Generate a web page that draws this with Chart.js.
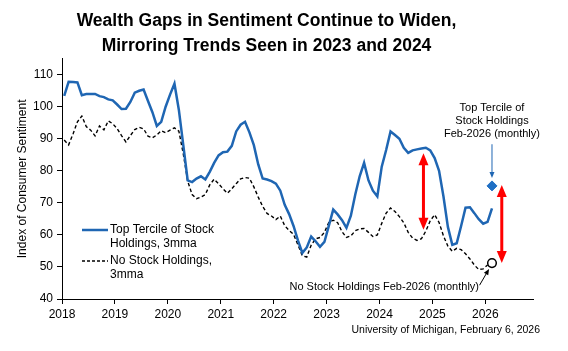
<!DOCTYPE html>
<html><head><meta charset="utf-8">
<script src="https://cdn.jsdelivr.net/npm/chart.js@4.4.1/dist/chart.umd.min.js"></script>
<style>html,body{margin:0;padding:0;background:#fff;}#wrap{width:568px;height:351px;position:relative;}</style>
</head><body><div id="wrap"><canvas id="c" width="568" height="351"></canvas></div>
<script>
// ---- data ----
const startYear = 2018; // monthly series begin Jan 2018
const topTercile3mma = [
  103.4,107.8,107.7,107.6,103.6,104.0,104.0,104.0,103.3,103.0,102.3,102.0,
  100.7,99.3,99.4,101.5,104.4,105.0,105.4,101.8,98.3,94.0,95.3,100.0,
  103.8,107.2,99.0,88.0,77.0,76.5,77.6,78.3,77.3,79.7,82.5,84.8,
  85.8,86.0,87.8,92.3,94.4,95.3,92.0,88.0,82.0,77.6,77.3,76.8,
  76.0,73.8,69.4,66.5,62.8,58.3,54.4,56.1,59.5,58.0,56.3,57.8,
  62.8,67.9,66.4,64.6,62.2,66.0,72.6,78.3,82.5,77.0,73.8,72.0,
  81.3,86.5,92.3,91.2,90.0,87.2,85.6,86.4,86.7,87.0,87.2,86.4,
  84.0,80.0,72.0,62.5,56.9,57.4,62.8,68.5,68.6,66.8,64.9,63.5,
  64.1,68.3
];
const noStock3mma = [
  89.6,88.1,91.5,95.3,97.1,93.8,92.7,90.9,94.0,92.8,95.6,94.7,
  93.2,91.0,89.0,91.0,92.9,93.6,93.1,90.8,90.3,91.2,92.5,91.9,
  92.7,93.4,92.4,85.3,76.8,72.6,71.3,71.8,72.6,75.6,77.4,76.0,
  74.4,73.0,74.4,76.0,77.5,77.9,77.7,75.0,71.8,68.9,66.7,65.9,
  64.8,65.9,62.9,61.4,60.2,56.9,53.5,53.1,56.8,58.8,59.2,60.8,
  63.9,64.6,63.8,61.0,59.2,59.7,61.3,61.9,62.0,60.8,59.5,60.0,
  63.6,66.8,68.4,67.3,65.7,63.8,60.8,59.0,58.3,58.8,61.2,64.4,
  66.3,63.9,59.7,56.5,54.9,55.8,55.4,54.1,52.5,50.6,49.2,49.4,
  50.6
];
const feb2026Month = 2026 + 1.5 / 12;
const topTercileFeb2026 = 75.3;
const noStockFeb2026 = 51.2;
const yearTicks = [2018, 2019, 2020, 2021, 2022, 2023, 2024, 2025, 2026];
const valueTicks = [40, 50, 60, 70, 80, 90, 100, 110];
// gap arrows: [x (year), upper value, lower value]
const gapArrows = [[2024.83, 85.5, 61.6], [2026.31, 75.6, 51.2]];

// ---- build points ----
const monthX = i => startYear + (i + 0.5) / 12;
const topPts = topTercile3mma.map((v, i) => ({x: monthX(i), y: v}));
const nonePts = noStock3mma.map((v, i) => ({x: monthX(i), y: v}));

const BLUE = '#1f66b3';
const FONT = '"Liberation Sans", Arial, sans-serif';

function arrowHead(ctx, x1, y1, x2, y2, len, wid) {
  const a = Math.atan2(y2 - y1, x2 - x1);
  ctx.beginPath();
  ctx.moveTo(x2, y2);
  ctx.lineTo(x2 - len * Math.cos(a) + wid / 2 * Math.sin(a), y2 - len * Math.sin(a) - wid / 2 * Math.cos(a));
  ctx.lineTo(x2 - len * Math.cos(a) - wid / 2 * Math.sin(a), y2 - len * Math.sin(a) + wid / 2 * Math.cos(a));
  ctx.closePath();
  ctx.fill();
}
function arrow(ctx, x1, y1, x2, y2, color, lw, len, wid, both) {
  const a = Math.atan2(y2 - y1, x2 - x1);
  ctx.save();
  ctx.strokeStyle = color; ctx.fillStyle = color; ctx.lineWidth = lw; ctx.setLineDash([]);
  ctx.beginPath();
  const sx = both ? x1 + len * 0.8 * Math.cos(a) : x1, sy = both ? y1 + len * 0.8 * Math.sin(a) : y1;
  ctx.moveTo(sx, sy);
  ctx.lineTo(x2 - len * 0.8 * Math.cos(a), y2 - len * 0.8 * Math.sin(a));
  ctx.stroke();
  arrowHead(ctx, x1, y1, x2, y2, len, wid);
  if (both) arrowHead(ctx, x2, y2, x1, y1, len, wid);
  ctx.restore();
}

const annot = {
  id: 'annot',
  afterDatasetsDraw(chart) {
    const ctx = chart.ctx, xs = chart.scales.x, ys = chart.scales.y;
    const X = v => xs.getPixelForValue(v), Y = v => ys.getPixelForValue(v);
    // red gap arrows
    gapArrows.forEach(g => arrow(ctx, X(g[0]), Y(g[1]), X(g[0]), Y(g[2]), '#ff0000', 3, 12, 10, true));
    // blue pointer arrow
    arrow(ctx, X(feb2026Month), Y(88.3), X(feb2026Month), Y(77.8), BLUE, 1, 6, 5, false);
    // black pointer arrow
    arrow(ctx, X(2025.89), Y(44.3), X(2026.07), Y(49.4), '#000', 1, 6, 5, false);
    ctx.save();
    ctx.fillStyle = '#000';
    ctx.font = '11px ' + FONT;
    ctx.textAlign = 'center'; ctx.textBaseline = 'middle';
    const ax = X(feb2026Month);
    ctx.fillText('Top Tercile of', ax, Y(99.6));
    ctx.fillText('Stock Holdings', ax, Y(95.5));
    ctx.fillText('Feb-2026 (monthly)', ax, Y(91.6));
    ctx.textAlign = 'right';
    ctx.fillText('No Stock Holdings Feb-2026 (monthly)', X(2025.88), Y(43.75));
    // legend
    const ca = chart.chartArea;
    const lx0 = ca.left + 20, lx1 = ca.left + 46, tx = ca.left + 48;
    ctx.font = '12px ' + FONT;
    ctx.textAlign = 'left';
    ctx.strokeStyle = BLUE; ctx.lineWidth = 2.5;
    ctx.beginPath(); ctx.moveTo(lx0, 230); ctx.lineTo(lx1, 230); ctx.stroke();
    ctx.fillText('Top Tercile of Stock', tx, 230);
    ctx.fillText('Holdings, 3mma', tx, 243.5);
    ctx.strokeStyle = '#000'; ctx.lineWidth = 1.3; ctx.setLineDash([3, 2]);
    ctx.beginPath(); ctx.moveTo(lx0, 261); ctx.lineTo(lx1, 261); ctx.stroke();
    ctx.setLineDash([]);
    ctx.fillText('No Stock Holdings,', tx, 261);
    ctx.fillText('3mma', tx, 275);
    // source
    ctx.font = '10.5px ' + FONT;
    ctx.textAlign = 'right';
    ctx.fillText('University of Michigan, February 6, 2026', 540, 330);
    ctx.restore();
  }
};

new Chart(document.getElementById('c'), {
  type: 'line',
  data: {
    datasets: [
      {label: 'Top Tercile of Stock Holdings, 3mma', data: topPts, borderColor: BLUE, borderWidth: 2.5, pointRadius: 0, tension: 0},
      {label: 'No Stock Holdings, 3mma', data: nonePts, borderColor: '#000', borderWidth: 1.4, borderDash: [3.5, 2.5], pointRadius: 0, tension: 0},
      {label: 'Top Tercile Feb-2026 (monthly)', data: [{x: feb2026Month, y: topTercileFeb2026}], showLine: false, pointStyle: 'rectRot', pointRadius: 5, backgroundColor: '#1f6fc4', borderColor: '#1f6fc4', borderWidth: 1},
      {label: 'No Stock Holdings Feb-2026 (monthly)', data: [{x: feb2026Month, y: noStockFeb2026}], showLine: false, pointStyle: 'circle', pointRadius: 4.3, backgroundColor: '#fff', borderColor: '#000', borderWidth: 1.5}
    ]
  },
  options: {
    responsive: false,
    animation: false,
    events: [],
    layout: {padding: {left: 0, right: 35, top: 0, bottom: 0}},
    plugins: {
      legend: {display: false},
      tooltip: {enabled: false},
      title: {
        display: true,
        text: ['Wealth Gaps in Sentiment Continue to Widen,', 'Mirroring Trends Seen in 2023 and 2024'],
        color: '#000',
        font: {family: FONT, size: 17.5, weight: 'bold', lineHeight: 1.42},
        padding: {top: 9, bottom: 0}
      }
    },
    scales: {
      x: {
        type: 'linear', min: 2018, max: 2026.9,
        afterBuildTicks: s => { s.ticks = yearTicks.map(v => ({value: v})); },
        afterFit: s => { s.height = 52; },
        ticks: {color: '#000', font: {family: FONT, size: 12}, padding: 3, maxRotation: 0, callback: v => String(v)},
        grid: {display: true, drawOnChartArea: false, drawTicks: true, tickLength: 5, color: '#000', lineWidth: 1},
        border: {display: true, color: '#000', width: 1}
      },
      y: {
        min: 40, max: 115,
        afterBuildTicks: s => { s.ticks = valueTicks.map(v => ({value: v})); },
        afterFit: s => { s.width = 62; },
        ticks: {color: '#000', font: {family: FONT, size: 12}, padding: 4},
        grid: {display: true, drawOnChartArea: false, drawTicks: true, tickLength: 5, color: '#000', lineWidth: 1},
        border: {display: true, color: '#000', width: 1},
        title: {display: true, text: 'Index of Consumer Sentiment', color: '#000', font: {family: FONT, size: 12}, padding: {top: 15, bottom: 0}}
      }
    }
  },
  plugins: [annot]
});
</script></body></html>
